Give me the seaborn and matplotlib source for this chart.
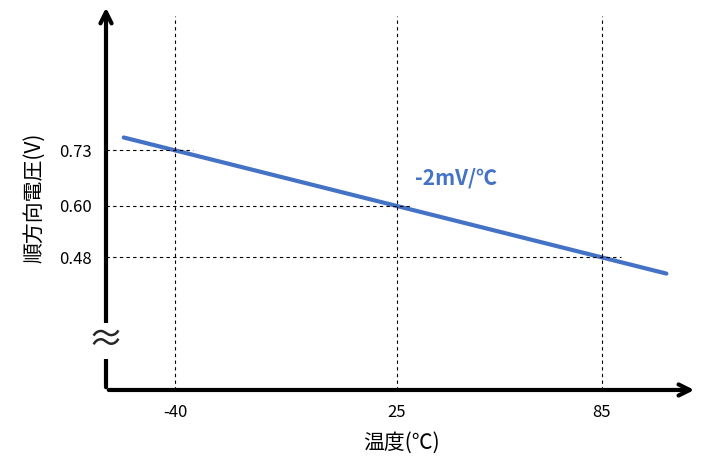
import matplotlib
matplotlib.use("Agg")
import matplotlib.pyplot as plt
import seaborn as sns
import pandas as pd

temps = [-55, 104]
vf = [0.76, 0.442]
xticks = [-40, 25, 85]
yticks = [0.73, 0.60, 0.48]
ytick_labels = ["0.73", "0.60", "0.48"]
hline_ends = [-34.7, 29.4, 90.6]

sns.set_style("white")
plt.rcParams['font.family'] = ['Noto Sans CJK JP', 'DejaVu Sans']

fig = plt.figure(figsize=(7.02, 4.68), dpi=100)
ax = fig.add_axes([0.151, 0.1667, 0.842, 0.823])
xmin, xmax = -60.2, 113
ymin, ymax = 0.17, 1.07
ax.set_xlim(xmin, xmax)
ax.set_ylim(ymin, ymax)

df = pd.DataFrame({"t": temps, "v": vf})
sns.lineplot(data=df, x="t", y="v", ax=ax, color="#4472C4", linewidth=3)

for x in xticks:
    ax.plot([x, x], [ymin, 1.045], ls=(0, (3, 3)), color="black", lw=0.8)
for y, xe in zip(yticks, hline_ends):
    ax.plot([xmin, xe], [y, y], ls=(0, (3, 3)), color="black", lw=0.8)

for s in ax.spines.values():
    s.set_visible(False)
ax.annotate("", xy=(1.0, 0), xytext=(0, 0), xycoords="axes fraction",
            arrowprops=dict(arrowstyle="->,head_length=0.8,head_width=0.4", lw=3, color="black"))
ax.annotate("", xy=(0, 1.0), xytext=(0, 0), xycoords="axes fraction",
            arrowprops=dict(arrowstyle="->,head_length=0.8,head_width=0.4", lw=3, color="black"))

ax.set_xticks(xticks)
ax.set_xticklabels([str(x) for x in xticks], fontsize=12, color="black")
ax.set_yticks(yticks)
ax.set_yticklabels(ytick_labels, fontsize=12, color="black")
ax.tick_params(length=0, pad=10)
ax.set_xlabel("温度(℃)", fontsize=15, labelpad=8, color="black")
ax.set_ylabel("順方向電圧(V)", fontsize=15, labelpad=10, color="black")

ax.text(30.3, 0.665, "-2mV/℃", color="#4472C4", fontsize=15, fontweight="bold", ha="left", va="center")
ax.text(xmin, 0.285, "≈", fontsize=26, ha="center", va="center", clip_on=False,
        bbox=dict(facecolor="white", edgecolor="none", pad=0))

fig.savefig("out.png", dpi=100)
